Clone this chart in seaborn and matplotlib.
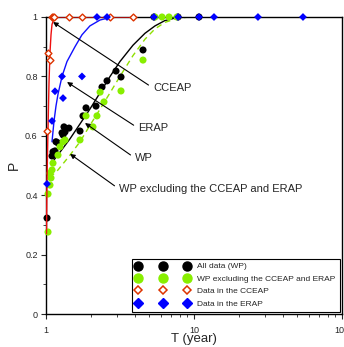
import numpy as np
import pandas as pd
import matplotlib
matplotlib.use("Agg")
import matplotlib.pyplot as plt
from matplotlib.lines import Line2D
from matplotlib.ticker import MultipleLocator
import seaborn as sns

sns.set_style("ticks")
plt.rcParams['font.family'] = ['Liberation Sans', 'DejaVu Sans']

# scatter data: return period T (year) and probability P
wp_T = [1.016, 1.098, 1.115, 1.150, 1.168, 1.205, 1.283, 1.303, 1.344, 1.323, 1.430,
        1.697, 1.778, 1.864, 2.177, 2.390, 2.584, 2.972, 3.212, 4.523, 5.366, 7.80, 10.81]
wp_P = [0.323, 0.532, 0.546, 0.549, 0.580, 0.576, 0.610, 0.603, 0.613, 0.630, 0.626,
        0.616, 0.667, 0.694, 0.700, 0.764, 0.785, 0.818, 0.798, 0.889, 1.0, 1.0, 1.0]

ex_T = [1.032, 1.032, 1.064, 1.064, 1.081, 1.098, 1.115, 1.205, 1.243, 1.303, 1.344,
        1.697, 1.864, 2.077, 2.210, 2.320, 2.465, 3.212, 4.523, 5.45, 6.078, 6.777, 7.675]
ex_P = [0.276, 0.404, 0.434, 0.474, 0.458, 0.485, 0.508, 0.535, 0.563, 0.580, 0.586,
        0.586, 0.667, 0.630, 0.667, 0.747, 0.714, 0.751, 0.855, 1.0, 1.0, 1.0, 1.0]

cc_T = [1.016, 1.032, 1.064, 1.098, 1.115, 1.133, 1.430, 1.750, 2.710, 3.870]
cc_P = [0.616, 0.879, 0.855, 1.0, 1.0, 1.0, 1.0, 1.0, 1.0, 1.0]

er_T = [1.016, 1.098, 1.150, 1.303, 1.283, 1.750, 2.210, 2.584, 5.366, 7.80, 10.81,
        13.65, 27.05, 54.5]
er_P = [0.438, 0.650, 0.750, 0.727, 0.800, 0.800, 1.0, 1.0, 1.0, 1.0, 1.0,
        1.0, 1.0, 1.0]

# fitted curves
cc_fit_T = [1.0078, 1.0157, 1.0316, 1.048, 1.064, 1.081, 1.098, 1.133, 1.187, 3.87]
cc_fit_P = [0.27, 0.45, 0.62, 0.78, 0.88, 0.94, 0.975, 0.995, 1.0, 1.0]

er_fit_T = [1.098, 1.133, 1.168, 1.205, 1.283, 1.386, 1.57, 1.75, 1.98, 2.32, 2.71, 3.16, 19.8]
er_fit_P = [0.58, 0.65, 0.70, 0.74, 0.80, 0.85, 0.90, 0.94, 0.97, 0.99, 0.998, 1.0, 1.0]

wp_fit_T = [1.098, 1.243, 1.453, 1.697, 1.98, 2.32, 2.71, 3.16, 3.87, 4.66, 5.45, 6.36, 7.69, 9.38]
wp_fit_P = [0.51, 0.545, 0.59, 0.64, 0.69, 0.745, 0.80, 0.85, 0.905, 0.945, 0.97, 0.988, 0.998, 1.0]

ex_fit_T = [1.064, 1.205, 1.453, 1.697, 1.98, 2.32, 2.71, 3.16, 3.87, 4.66, 5.45, 6.36, 7.80, 9.38]
ex_fit_P = [0.46, 0.485, 0.535, 0.58, 0.635, 0.69, 0.745, 0.80, 0.87, 0.925, 0.96, 0.982, 0.996, 1.0]

fig = plt.figure(figsize=(3.44, 3.47), dpi=100)
ax = fig.add_axes([46 / 344, 1 - 314 / 347, 296 / 344, 297 / 347])

lw = 1.0
sns.lineplot(x=wp_fit_T, y=wp_fit_P, ax=ax, color='black', lw=lw, sort=False, estimator=None)
sns.lineplot(x=ex_fit_T, y=ex_fit_P, ax=ax, color='#8ee000', lw=lw, sort=False, estimator=None,
             linestyle=(0, (4, 3)))
sns.lineplot(x=er_fit_T, y=er_fit_P, ax=ax, color='#1010ff', lw=lw, sort=False, estimator=None)

sns.scatterplot(x=wp_T, y=wp_P, ax=ax, color='black', s=26, edgecolor='none', zorder=3, clip_on=False)
sns.scatterplot(x=ex_T, y=ex_P, ax=ax, color='#88ee00', s=26, edgecolor='none', zorder=3, clip_on=False)
sns.lineplot(x=cc_fit_T, y=cc_fit_P, ax=ax, color='#ee1010', lw=lw, sort=False, estimator=None, zorder=4)
sns.scatterplot(x=cc_T, y=cc_P, ax=ax, marker='D', s=12, facecolor='white',
                edgecolor='#dd3300', linewidth=1.0, zorder=5, clip_on=False)
sns.scatterplot(x=er_T, y=er_P, ax=ax, marker='D', color='#0000ff', s=16, edgecolor='none',
                zorder=6, clip_on=False)

ax.set_xscale('log')
ax.set_xlim(1, 100)
ax.set_ylim(0, 1)
ax.set_xticks([1, 10, 100])
ax.set_xticklabels(['1', '10', '100'])
ax.set_yticks([0, 0.2, 0.4, 0.6, 0.8, 1.0])
ax.set_yticklabels(['0', '0.2', '0.4', '0.6', '0.8', '1'])
ax.yaxis.set_minor_locator(MultipleLocator(0.1))
ax.tick_params(which='major', direction='out', length=3.5, width=0.8, labelsize=6.5)
ax.tick_params(axis='x', which='major', pad=5)
ax.tick_params(axis='y', which='major', pad=2.5)
ax.tick_params(which='minor', direction='out', length=2, width=0.6)
for sp in ax.spines.values():
    sp.set_visible(True)
    sp.set_linewidth(1.0)
    sp.set_color('black')

ax.set_xlabel('T (year)', fontsize=9.5, labelpad=-1)
ax.set_ylabel('P', fontsize=10, labelpad=3)

arrow = dict(arrowstyle='-|>', color='black', lw=0.8, mutation_scale=7, relpos=(0, 0.5), shrinkA=1, shrinkB=0)
ax.annotate('CCEAP', xy=(1.115, 0.983), xytext=(5.28, 0.761), fontsize=8, va='center', ha='left', arrowprops=arrow)
ax.annotate('ERAP', xy=(1.387, 0.781), xytext=(4.19, 0.626), fontsize=8, va='center', ha='left', arrowprops=arrow)
ax.annotate('WP', xy=(1.834, 0.643), xytext=(3.99, 0.525), fontsize=8, va='center', ha='left', arrowprops=arrow)
ax.annotate('WP excluding the CCEAP and ERAP', xy=(1.453, 0.539), xytext=(3.11, 0.421), fontsize=8,
            va='center', ha='left', arrowprops=arrow)

handles = [
    Line2D([], [], ls='none', marker='o', color='black', markersize=6.5),
    Line2D([], [], ls='none', marker='o', color='#88ee00', markersize=6.5),
    Line2D([], [], ls='none', marker='D', markerfacecolor='white', markeredgecolor='#dd3300',
           markeredgewidth=1.1, markersize=4.2),
    Line2D([], [], ls='none', marker='D', color='#0000ff', markersize=5),
]
labels = ['All data (WP)', 'WP excluding the CCEAP and ERAP', 'Data in the CCEAP', 'Data in the ERAP']
leg = ax.legend(handles, labels, loc='lower right', numpoints=3, fontsize=6, handlelength=6.5,
                handletextpad=0.9, labelspacing=0.55, borderaxespad=0.3, fancybox=False,
                framealpha=1, edgecolor='black', borderpad=0.45)
leg.get_frame().set_linewidth(0.8)

fig.savefig('out.png', dpi=100)
